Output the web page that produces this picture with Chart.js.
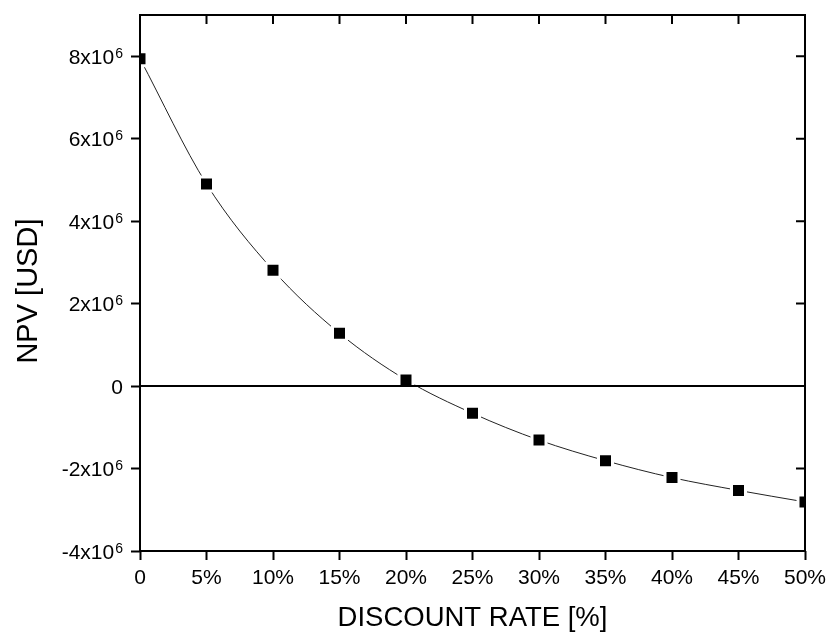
<!DOCTYPE html>
<html><head><meta charset="utf-8">
<script src="https://cdn.jsdelivr.net/npm/chart.js@4/dist/chart.umd.min.js"></script>
<style>html,body{margin:0;padding:0;background:#fff}#wrap{width:829px;height:635px}</style>
</head><body><div id="wrap"><canvas id="c" width="829" height="635"></canvas></div>
<script>
// ---- data ----
const discountRates = [0, 5, 10, 15, 20, 25, 30, 35, 40, 45, 50];
const npvValues = [7.94e6, 4.90e6, 2.81e6, 1.28e6, 0.15e6, -0.66e6, -1.31e6, -1.81e6, -2.22e6, -2.53e6, -2.81e6];
const xTickValues = [0, 5, 10, 15, 20, 25, 30, 35, 40, 45, 50];
const xTickLabels = ['0', '5%', '10%', '15%', '20%', '25%', '30%', '35%', '40%', '45%', '50%'];
const yTickValues = [-4e6, -2e6, 0, 2e6, 4e6, 6e6, 8e6];
const yTickMantissa = ['-4x10', '-2x10', '0', '2x10', '4x10', '6x10', '8x10'];
const yTickExponent = ['6', '6', '', '6', '6', '6', '6'];
const xTitle = 'DISCOUNT RATE [%]';
const yTitle = 'NPV [USD]';

const FONT = '"Liberation Sans", Arial, sans-serif';
const TICK_LEN = 9;

const framePlugin = {
  id: 'frame',
  afterDatasetsDraw(chart) {
    const {ctx, chartArea: a, scales: {x, y}} = chart;
    ctx.save();
    ctx.strokeStyle = '#000';
    ctx.lineWidth = 2;
    const y0 = y.getPixelForValue(0);
    ctx.beginPath(); ctx.moveTo(a.left, y0); ctx.lineTo(a.right, y0); ctx.stroke();
    ctx.strokeRect(a.left, a.top, a.right - a.left, a.bottom - a.top);
    ctx.beginPath();
    x.ticks.forEach(t => { const px = x.getPixelForValue(t.value); ctx.moveTo(px, a.top); ctx.lineTo(px, a.top + TICK_LEN); });
    y.ticks.forEach(t => { const py = y.getPixelForValue(t.value); ctx.moveTo(a.right, py); ctx.lineTo(a.right - TICK_LEN, py); });
    ctx.stroke();
    // y tick labels with superscript exponents
    ctx.fillStyle = '#000';
    ctx.textBaseline = 'alphabetic';
    const rightEdge = a.left - TICK_LEN - 8;
    yTickValues.forEach((v, i) => {
      const py = y.getPixelForValue(v);
      const exp = yTickExponent[i];
      ctx.font = '14px ' + FONT;
      const ew = exp ? ctx.measureText(exp).width : 0;
      if (exp) { ctx.textAlign = 'right'; ctx.fillText(exp, rightEdge, py + 1.5); }
      ctx.font = '21px ' + FONT;
      ctx.textAlign = 'right';
      ctx.fillText(yTickMantissa[i], rightEdge - ew - (exp ? 1 : 0), py + 7.5);
    });
    ctx.restore();
  }
};

new Chart(document.getElementById('c'), {
  type: 'line',
  data: {
    datasets: [{
      data: discountRates.map((r, i) => ({x: r, y: npvValues[i]})),
      borderColor: '#222',
      borderWidth: 1,
      cubicInterpolationMode: 'monotone',
      pointStyle: 'rect',
      pointRadius: 9.9,
      pointBackgroundColor: '#000',
      pointBorderColor: '#fff',
      pointBorderWidth: 3,
      clip: 0
    }]
  },
  options: {
    responsive: false,
    animation: false,
    events: [],
    layout: {padding: {top: 15, right: 24, left: 0, bottom: 0}},
    plugins: {legend: {display: false}, tooltip: {enabled: false}},
    scales: {
      x: {
        type: 'linear', min: 0, max: 50,
        afterBuildTicks: s => { s.ticks = xTickValues.map(v => ({value: v})); },
        afterFit: s => { s.height = 84; s.paddingLeft = 0; s.paddingRight = 0; },
        ticks: {
          color: '#000', font: {family: FONT, size: 21}, padding: 6, maxRotation: 0, autoSkip: false,
          callback: (v) => xTickLabels[xTickValues.indexOf(v)]
        },
        grid: {display: true, drawOnChartArea: false, drawTicks: true, tickLength: TICK_LEN, tickColor: '#000', tickWidth: 2},
        border: {display: false},
        title: {display: true, text: xTitle, color: '#000', font: {family: FONT, size: 27.5}, padding: 0}
      },
      y: {
        type: 'linear', min: -4e6, max: 9e6,
        afterBuildTicks: s => { s.ticks = yTickValues.map(v => ({value: v})); },
        afterFit: s => { s.width = 140; s.paddingTop = 0; s.paddingBottom = 0; },
        ticks: {display: false},
        grid: {display: true, drawOnChartArea: false, drawTicks: true, tickLength: TICK_LEN, tickColor: '#000', tickWidth: 2},
        border: {display: false},
        title: {display: true, text: yTitle + '  ', color: '#000', font: {family: FONT, size: 29}, padding: {top: 12}}
      }
    }
  },
  plugins: [framePlugin]
});
</script>
</body></html>
